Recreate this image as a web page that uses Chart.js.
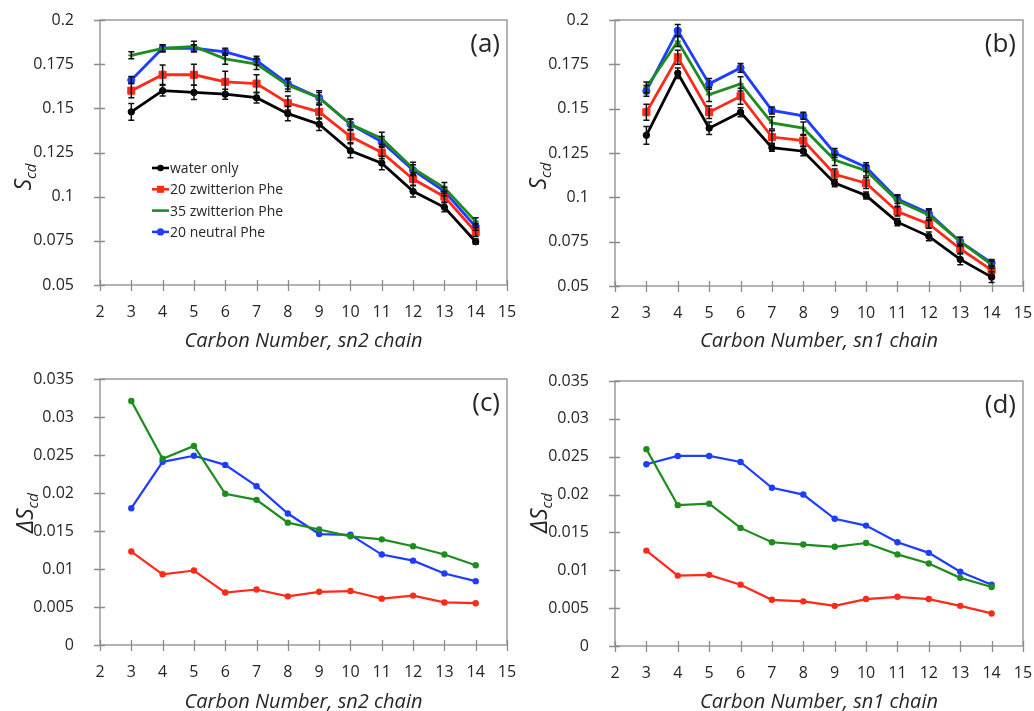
<!DOCTYPE html>
<html>
<head>
<meta charset="utf-8">
<script src="https://cdn.jsdelivr.net/npm/chart.js@4"></script>
<style>
  body { margin: 0; background: #fff; width: 1034px; height: 711px; overflow: hidden; }
  .panel { position: absolute; }
  canvas { display: block; }
</style>
</head>
<body>
<div class="panel" style="left:0;top:0"><canvas id="chartA" width="517" height="356"></canvas></div>
<div class="panel" style="left:517px;top:0"><canvas id="chartB" width="517" height="356"></canvas></div>
<div class="panel" style="left:0;top:356px"><canvas id="chartC" width="517" height="355"></canvas></div>
<div class="panel" style="left:517px;top:356px"><canvas id="chartD" width="517" height="355"></canvas></div>
<script>
// carbon positions along the chain
const carbon = [3, 4, 5, 6, 7, 8, 9, 10, 11, 12, 13, 14];

const seriesNames = ['water only', '20 zwitterion Phe', '35 zwitterion Phe', '20 neutral Phe'];

// (a) order parameter, sn2 chain
const sn2Water = [0.148, 0.160, 0.159, 0.158, 0.156, 0.147, 0.141, 0.126, 0.119, 0.103, 0.094, 0.0745];
const sn2Zw20  = [0.160, 0.169, 0.169, 0.165, 0.164, 0.153, 0.148, 0.134, 0.125, 0.110, 0.100, 0.080];
const sn2Zw35  = [0.180, 0.184, 0.185, 0.178, 0.175, 0.163, 0.156, 0.141, 0.133, 0.116, 0.105, 0.086];
const sn2Neu20 = [0.166, 0.184, 0.184, 0.182, 0.177, 0.164, 0.156, 0.141, 0.131, 0.115, 0.103, 0.083];
const sn2WaterErr = [0.0048, 0.0030, 0.0040, 0.0028, 0.0030, 0.0040, 0.0035, 0.0040, 0.0038, 0.0032, 0.0025, 0.0015];
const sn2Zw20Err  = [0.0040, 0.0055, 0.0060, 0.0060, 0.0050, 0.0040, 0.0040, 0.0035, 0.0035, 0.0035, 0.0030, 0.0025];
const sn2Zw35Err  = [0.0020, 0.0020, 0.0030, 0.0030, 0.0030, 0.0035, 0.0040, 0.0030, 0.0035, 0.0035, 0.0030, 0.0020];
const sn2Neu20Err = [0.0020, 0.0020, 0.0020, 0.0020, 0.0025, 0.0030, 0.0030, 0.0030, 0.0030, 0.0030, 0.0025, 0.0020];

// (b) order parameter, sn1 chain
const sn1Water = [0.135, 0.170, 0.139, 0.148, 0.128, 0.126, 0.108, 0.101, 0.086, 0.078, 0.065, 0.055];
const sn1Zw20  = [0.148, 0.179, 0.148, 0.157, 0.134, 0.132, 0.113, 0.108, 0.092, 0.085, 0.071, 0.059];
const sn1Zw35  = [0.162, 0.188, 0.158, 0.164, 0.142, 0.139, 0.121, 0.115, 0.098, 0.090, 0.075, 0.062];
const sn1Neu20 = [0.160, 0.194, 0.164, 0.173, 0.149, 0.146, 0.125, 0.117, 0.099, 0.091, 0.075, 0.063];
const sn1WaterErr = [0.0050, 0.0030, 0.0035, 0.0025, 0.0020, 0.0025, 0.0020, 0.0020, 0.0020, 0.0025, 0.0030, 0.0030];
const sn1Zw20Err  = [0.0045, 0.0040, 0.0035, 0.0045, 0.0035, 0.0030, 0.0030, 0.0030, 0.0025, 0.0025, 0.0025, 0.0025];
const sn1Zw35Err  = [0.0030, 0.0030, 0.0040, 0.0040, 0.0035, 0.0035, 0.0030, 0.0030, 0.0030, 0.0030, 0.0025, 0.0020];
const sn1Neu20Err = [0.0030, 0.0035, 0.0030, 0.0025, 0.0020, 0.0020, 0.0025, 0.0025, 0.0025, 0.0025, 0.0025, 0.0020];

// (c) change vs water only, sn2 chain
const dSn2Zw20  = [0.0123, 0.0093, 0.0098, 0.0069, 0.0073, 0.0064, 0.0070, 0.0071, 0.0061, 0.0065, 0.0056, 0.0055];
const dSn2Zw35  = [0.0321, 0.0245, 0.0262, 0.0199, 0.0191, 0.0161, 0.0152, 0.0143, 0.0139, 0.0130, 0.0119, 0.0105];
const dSn2Neu20 = [0.0180, 0.0241, 0.0249, 0.0237, 0.0209, 0.0173, 0.0146, 0.0145, 0.0119, 0.0111, 0.0094, 0.0084];

// (d) change vs water only, sn1 chain
const dSn1Zw20  = [0.0126, 0.0093, 0.0094, 0.0081, 0.0061, 0.0059, 0.0053, 0.0062, 0.0065, 0.0062, 0.0053, 0.0043];
const dSn1Zw35  = [0.0260, 0.0186, 0.0188, 0.0156, 0.0137, 0.0134, 0.0131, 0.0136, 0.0121, 0.0109, 0.0090, 0.0078];
const dSn1Neu20 = [0.0240, 0.0251, 0.0251, 0.0243, 0.0209, 0.0200, 0.0168, 0.0159, 0.0137, 0.0123, 0.0098, 0.0081];

const colors = ['#000000', '#ff2a1a', '#1e8c1e', '#1f3dff'];
const textColor = '#262626';
const axisColor = '#8c8c8c';
const fontFamily = "'Open Sans', sans-serif";

// upper panel markers
const upperStyles = [
  { pointStyle: 'circle', radius: 3.2 },
  { pointStyle: 'rect', radius: 5 },
  { pointStyle: 'cross', radius: 3 },
  { pointStyle: 'circle', radius: 3.6 }
];

function toPoints(values) {
  return carbon.map((c, i) => ({ x: c, y: values[i] }));
}

function upperDataset(idx, values, errors) {
  const st = upperStyles[idx];
  return {
    label: seriesNames[idx],
    data: toPoints(values),
    errors: errors,
    borderColor: colors[idx],
    backgroundColor: colors[idx],
    borderWidth: 2.8,
    pointStyle: st.pointStyle,
    pointRadius: st.radius,
    pointBorderWidth: st.pointStyle === 'cross' ? 1.8 : 1,
    pointBorderColor: colors[idx],
    pointBackgroundColor: colors[idx],
    tension: 0
  };
}

function lowerDataset(idx, values) {
  return {
    label: seriesNames[idx],
    data: toPoints(values),
    borderColor: colors[idx],
    backgroundColor: colors[idx],
    borderWidth: 2.2,
    pointStyle: 'circle',
    pointRadius: 3.2,
    pointBorderWidth: 0,
    pointBackgroundColor: colors[idx],
    tension: 0
  };
}

function drawFrame(chart) {
  const { ctx, chartArea: a, scales } = chart;
  ctx.save();
  ctx.strokeStyle = axisColor;
  ctx.lineWidth = 1.3;
  ctx.strokeRect(a.left, a.top, a.right - a.left, a.bottom - a.top);
  ctx.beginPath();
  scales.x.ticks.forEach(t => {
    const px = Math.round(scales.x.getPixelForValue(t.value)) + 0.5;
    ctx.moveTo(px, a.bottom - 5);
    ctx.lineTo(px, a.bottom + 6);
  });
  scales.y.ticks.forEach(t => {
    const py = Math.round(scales.y.getPixelForValue(t.value)) + 0.5;
    ctx.moveTo(a.left - 6, py);
    ctx.lineTo(a.left + 5, py);
  });
  ctx.stroke();
  ctx.restore();
}

function drawErrorBars(chart) {
  const { ctx, scales } = chart;
  ctx.save();
  ctx.strokeStyle = '#111';
  ctx.lineWidth = 1.5;
  chart.data.datasets.forEach(ds => {
    if (!ds.errors) return;
    ds.data.forEach((p, i) => {
      const e = ds.errors[i];
      const px = scales.x.getPixelForValue(p.x);
      const yHi = scales.y.getPixelForValue(p.y + e);
      const yLo = scales.y.getPixelForValue(p.y - e);
      ctx.beginPath();
      ctx.moveTo(px, yHi);
      ctx.lineTo(px, yLo);
      ctx.moveTo(px - 3, yHi);
      ctx.lineTo(px + 3, yHi);
      ctx.moveTo(px - 3, yLo);
      ctx.lineTo(px + 3, yLo);
      ctx.stroke();
    });
  });
  ctx.restore();
}

function drawLabels(chart, o) {
  const { ctx, chartArea: a } = chart;
  ctx.save();
  ctx.fillStyle = textColor;

  // x title
  ctx.font = 'italic 20px ' + fontFamily;
  ctx.textAlign = 'center';
  ctx.textBaseline = 'middle';
  ctx.fillText(o.xTitle, (a.left + a.right) / 2, o.xTitleY);

  // y title with subscript
  ctx.translate(o.yTitleX, o.yTitleY);
  ctx.rotate(-Math.PI / 2);
  ctx.textAlign = 'left';
  ctx.textBaseline = 'alphabetic';
  const main = o.prefix + 'S';
  ctx.font = 'italic 23px ' + fontFamily;
  const w1 = ctx.measureText(main).width;
  ctx.font = 'italic 15px ' + fontFamily;
  const w2 = ctx.measureText('cd').width;
  const start = -(w1 + w2) / 2;
  ctx.font = 'italic 23px ' + fontFamily;
  ctx.fillText(main, start, 0);
  ctx.font = 'italic 15px ' + fontFamily;
  ctx.fillText('cd', start + w1, 5);
  ctx.rotate(Math.PI / 2);
  ctx.translate(-o.yTitleX, -o.yTitleY);

  // panel letter
  ctx.font = '26px ' + fontFamily;
  ctx.textAlign = 'right';
  ctx.textBaseline = 'middle';
  ctx.fillText(o.letter, a.right - 7, a.top + 25);

  if (o.legend) {
    const x0 = 152;
    let y = 168;
    chart.data.datasets.forEach(ds => {
      ctx.strokeStyle = ds.borderColor;
      ctx.lineWidth = 2.6;
      ctx.beginPath();
      ctx.moveTo(x0, y);
      ctx.lineTo(x0 + 17, y);
      ctx.stroke();
      ctx.fillStyle = ds.pointBackgroundColor;
      ctx.strokeStyle = ds.pointBorderColor;
      ctx.lineWidth = ds.pointBorderWidth;
      Chart.helpers.drawPoint(ctx, { pointStyle: ds.pointStyle, radius: ds.pointRadius, rotation: 0 }, x0 + 8.5, y);
      ctx.fillStyle = textColor;
      ctx.font = '14px ' + fontFamily;
      ctx.textAlign = 'left';
      ctx.textBaseline = 'middle';
      ctx.fillText(ds.label, x0 + 18, y + 1);
      y += 21.3;
    });
  }
  ctx.restore();
}

// frame, error bars, titles and legend
const panelPlugin = {
  id: 'panel',
  afterDatasetsDraw(chart, args, opts) {
    drawFrame(chart);
    drawErrorBars(chart);
  },
  afterDraw(chart, args, opts) {
    drawLabels(chart, opts);
  }
};

function noPadding(s) {
  s.paddingLeft = 0;
  s.paddingRight = 0;
  s.paddingTop = 0;
  s.paddingBottom = 0;
}

function makeChart(id, datasets, opt) {
  const tickFont = { family: fontFamily, size: 16 };
  return new Chart(document.getElementById(id), {
    type: 'line',
    data: { datasets },
    plugins: [panelPlugin],
    options: {
      responsive: false,
      animation: false,
      layout: { autoPadding: false, padding: { left: 0, top: opt.padTop, right: opt.padRight, bottom: 0 } },
      plugins: {
        legend: { display: false },
        tooltip: { enabled: false },
        panel: opt.labels
      },
      scales: {
        x: {
          type: 'linear',
          min: 2,
          max: 15,
          ticks: { stepSize: 1, font: tickFont, color: textColor, padding: opt.xPad, maxRotation: 0 },
          grid: { display: false },
          border: { display: false },
          afterFit: s => { s.height = opt.xHeight; noPadding(s); }
        },
        y: {
          min: opt.yMin,
          max: opt.yMax,
          ticks: {
            stepSize: opt.yStep,
            font: tickFont,
            color: textColor,
            padding: 18,
            callback: v => String(Number(v.toFixed(3)))
          },
          grid: { display: false },
          border: { display: false },
          afterFit: s => { s.width = opt.yWidth; noPadding(s); }
        }
      }
    }
  });
}

makeChart('chartA', [
  upperDataset(0, sn2Water, sn2WaterErr),
  upperDataset(1, sn2Zw20, sn2Zw20Err),
  upperDataset(2, sn2Zw35, sn2Zw35Err),
  upperDataset(3, sn2Neu20, sn2Neu20Err)
], {
  padTop: 20, padRight: 10, yWidth: 100, xHeight: 71, xPad: 10,
  yMin: 0.05, yMax: 0.2, yStep: 0.025,
  labels: { xTitle: 'Carbon Number, sn2 chain', xTitleY: 341, yTitleX: 31, yTitleY: 177, prefix: '', letter: '(a)', legend: true }
});

makeChart('chartB', [
  upperDataset(0, sn1Water, sn1WaterErr),
  upperDataset(1, sn1Zw20, sn1Zw20Err),
  upperDataset(2, sn1Zw35, sn1Zw35Err),
  upperDataset(3, sn1Neu20, sn1Neu20Err)
], {
  padTop: 20, padRight: 11, yWidth: 98, xHeight: 70, xPad: 10,
  yMin: 0.05, yMax: 0.2, yStep: 0.025,
  labels: { xTitle: 'Carbon Number, sn1 chain', xTitleY: 341, yTitleX: 29, yTitleY: 176, prefix: '', letter: '(b)', legend: false }
});

makeChart('chartC', [
  lowerDataset(1, dSn2Zw20),
  lowerDataset(2, dSn2Zw35),
  lowerDataset(3, dSn2Neu20)
], {
  padTop: 23, padRight: 10, yWidth: 100, xHeight: 66, xPad: 10,
  yMin: 0, yMax: 0.035, yStep: 0.005,
  labels: { xTitle: 'Carbon Number, sn2 chain', xTitleY: 346, yTitleX: 33, yTitleY: 157, prefix: '\u0394', letter: '(c)', legend: false }
});

makeChart('chartD', [
  lowerDataset(1, dSn1Zw20),
  lowerDataset(2, dSn1Zw35),
  lowerDataset(3, dSn1Neu20)
], {
  padTop: 25, padRight: 11, yWidth: 98, xHeight: 65, xPad: 10,
  yMin: 0, yMax: 0.035, yStep: 0.005,
  labels: { xTitle: 'Carbon Number, sn1 chain', xTitleY: 346, yTitleX: 30, yTitleY: 157, prefix: '\u0394', letter: '(d)', legend: false }
});
</script>
</body>
</html>
